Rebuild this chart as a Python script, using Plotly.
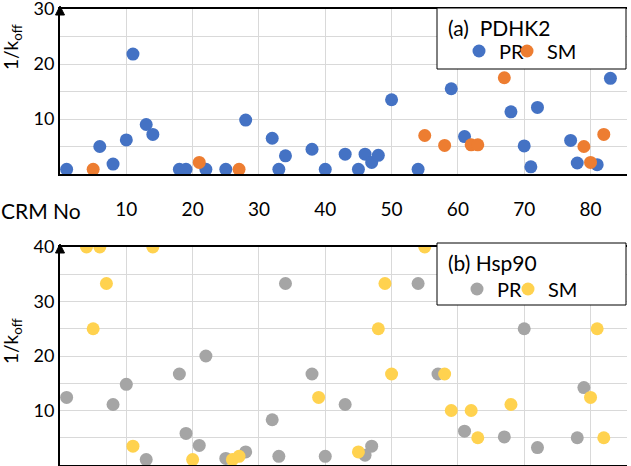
import plotly.graph_objects as go

# ----- DATA -----
# (a) PDHK2
pd_pr_x = [1, 6, 8, 10, 11, 13, 14, 18, 19, 22, 25, 28, 32, 33, 34, 38, 40, 43, 45, 46, 47, 48,
           50, 54, 59, 61, 68, 70, 71, 72, 77, 78, 81, 83]
pd_pr_y = [0.85, 5.0, 1.8, 6.2, 21.8, 9.0, 7.2, 0.85, 0.85, 0.85, 0.85, 9.8, 6.5, 0.85, 3.3, 4.5,
           0.85, 3.6, 0.85, 3.6, 2.1, 3.4, 13.5, 0.85, 15.5, 6.8, 11.3, 5.1, 1.3, 12.1, 6.1, 2.0,
           1.7, 17.4]
pd_sm_x = [5, 21, 27, 55, 58, 62, 63, 67, 79, 80, 82]
pd_sm_y = [0.85, 2.1, 0.85, 7.0, 5.2, 5.3, 5.3, 17.5, 5.0, 2.1, 7.2]

# (b) Hsp90
hs_pr_x = [1, 8, 10, 13, 18, 19, 21, 22, 25, 28, 32, 33, 34, 38, 40, 43, 46, 47, 54, 57, 61, 67,
           70, 72, 78, 79]
hs_pr_y = [12.4, 11.1, 14.8, 1.0, 16.7, 5.8, 3.6, 20.0, 1.2, 2.4, 8.3, 1.6, 33.3, 16.7, 1.6, 11.1,
           1.8, 3.45, 33.3, 16.7, 6.2, 5.15, 25.0, 3.2, 5.0, 14.2]
hs_sm_x = [4, 5, 6, 7, 11, 14, 20, 26, 27, 39, 45, 48, 49, 50, 55, 58, 59, 62, 63, 68, 80, 81, 82]
hs_sm_y = [40, 25.0, 40, 33.3, 3.45, 40, 1.0, 1.0, 1.6, 12.4, 2.4, 25.0, 33.3, 16.7, 40, 16.7,
           10.0, 10.0, 5.0, 11.1, 12.4, 25.0, 5.0]

x_ticks = [10, 20, 30, 40, 50, 60, 70, 80]
# ----------------

FONT = "Lato"
BLUE, ORANGE, GRAY, YELLOW = "#4472C4", "#ED7D31", "#A5A5A5", "#FFD24F"
MSIZE = 13
TICK = 18

W, H, L, R, T, B = 631, 466, 60, 4, 9, 1
PW, PH = W - L - R, H - T - B


def px(x):  # pixel -> paper x
    return (x - L) / PW


def py(y):  # pixel -> paper y
    return (H - B - y) / PH


fig = go.Figure()
series = [
    (pd_pr_x, pd_pr_y, "PR", BLUE, "x", "y", "legend"),
    (pd_sm_x, pd_sm_y, "SM", ORANGE, "x", "y", "legend2"),
    (hs_pr_x, hs_pr_y, "PR", GRAY, "x2", "y2", "legend3"),
    (hs_sm_x, hs_sm_y, "SM", YELLOW, "x2", "y2", "legend4"),
]
for xs, ys, name, color, xa, ya, lg in series:
    fig.add_trace(go.Scatter(x=xs, y=ys, mode="markers", name=name,
                             marker=dict(color=color, size=MSIZE), xaxis=xa, yaxis=ya,
                             legend=lg, cliponaxis=True))

grid = "#D9D9D9"
xcommon = dict(range=[0, 85.5], showline=True, linecolor="black", linewidth=1.5, mirror=True,
               showgrid=True, gridcolor=grid, gridwidth=1, tickvals=x_ticks, zeroline=False,
               ticks="", tickfont=dict(family=FONT, size=19, color="black"))
ycommon = dict(showline=True, linecolor="black", linewidth=2, showgrid=True, gridcolor=grid,
               zeroline=False, ticks="", dtick=10, tick0=0, ticklabeloverflow="allow",
               minor=dict(dtick=5, showgrid=True, gridcolor=grid),
               tickfont=dict(family=FONT, size=TICK, color="black"))

legend_common = dict(orientation="h", xanchor="left", yanchor="middle", bgcolor="rgba(0,0,0,0)",
                     font=dict(size=20), itemwidth=30)

fig.update_layout(
    width=W, height=H,
    margin=dict(l=L, r=R, t=T, b=B, autoexpand=False),
    paper_bgcolor="white", plot_bgcolor="white",
    font=dict(family=FONT, size=TICK, color="black"),
    xaxis=dict(xcommon, domain=[0, 1], anchor="y", showticklabels=True, ticklabelstandoff=17),
    yaxis=dict(ycommon, domain=[py(174), 1.0], range=[0, 30], tickvals=[10, 20, 30]),
    xaxis2=dict(xcommon, domain=[0, 1], anchor="y2", showticklabels=False),
    yaxis2=dict(ycommon, domain=[0, py(247)], range=[0, 40], tickvals=[10, 20, 30, 40]),
    legend=dict(legend_common, x=px(459), y=py(51)),
    legend2=dict(legend_common, x=px(507), y=py(51)),
    legend3=dict(legend_common, x=px(457), y=py(289)),
    legend4=dict(legend_common, x=px(508), y=py(289)),
    showlegend=True,
)

# legend boxes and their titles
for top, bot, title in [(8, 69, "(a)  PDHK2"), (243, 305, "(b) Hsp90")]:
    fig.add_shape(type="rect", xref="paper", yref="paper", x0=px(437), x1=px(626),
                  y0=py(bot), y1=py(top), line=dict(color="black", width=1),
                  fillcolor="white", layer="above")
    fig.add_annotation(text=title, xref="paper", yref="paper", x=px(446), y=py(top + 19),
                       xanchor="left", yanchor="middle", showarrow=False, font=dict(size=21))

# axis titles
for yc in [47, 341]:
    fig.add_annotation(text="1/k<sub>off</sub>", xref="paper", yref="paper", x=px(12), y=py(yc),
                       xanchor="center", yanchor="middle", textangle=-90, showarrow=False,
                       font=dict(size=19))
fig.add_annotation(text="CRM No", xref="paper", yref="paper", x=px(41), y=py(210),
                   showarrow=False, xanchor="center", yanchor="middle", font=dict(size=21))

# arrow heads on top of the y axes
for top in [9, 247]:
    fig.add_shape(type="path", xref="paper", yref="paper",
                  path=f"M {px(L - 4.5)} {py(top + 6)} L {px(L + 4.5)} {py(top + 6)} "
                       f"L {px(L)} {py(top - 3)} Z",
                  fillcolor="black", line=dict(color="black", width=1), layer="above")

fig.write_html("out.html", config={"displayModeBar": False},
               post_script="document.body.style.margin='0';")
